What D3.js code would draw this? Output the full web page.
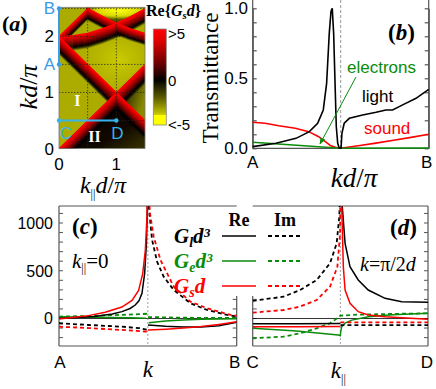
<!DOCTYPE html>
<html>
<head>
<meta charset="utf-8">
<script src="https://cdn.jsdelivr.net/npm/d3@7"></script>
<style>
  body { margin: 0; background: #fff; }
  svg { display: block; }
</style>
</head>
<body>
<div id="container"></div>
<script>
/* CONSTANTS AND GLOBALS */
const width = 436, height = 389;
const serif = "'Liberation Serif', 'Times New Roman', serif";
const sans = "'Liberation Sans', Arial, sans-serif";
const axisGray = "#555";
const green = "#0a8c0a";
const blue = "#3a9be6";
const cyan = "#37b4ea";

/* DATA */
// (a) Rayleigh-anomaly lines on the Re{Gs d} map, [k||d/pi, kd/pi]
const lineL1 = [[0, 0], [1.5, 1.5]];
const lineL2 = [[0, 2], [1.5, 0.5]];
const lineL3 = [[0, 2], [0.52, 2.52]];
const lineL4 = [[0, 2], [0.25, 2.02], [0.5, 2.06], [0.75, 2.14], [1, 2.24], [1.25, 2.36], [1.5, 2.5]];
const lineL5 = [[0.47, 2.52], [0.75, 2.37], [1, 2.24], [1.25, 2.14], [1.5, 2.06]];
// (a) map regions
const regionII = [[0, 0], [1, 1], [1.5, 0.5], [1.5, 0]];
const regionRight = [[1, 1], [1.5, 1.5], [1.5, 0.5]];
const regionTop = [[0.47, 2.52], [0.75, 2.37], [1, 2.24], [1.25, 2.36], [1.5, 2.5], [1.5, 2.52]];
const gridKpar = [0.5, 1];
const gridKd = [0.5, 1, 1.5, 2, 2.5];
const aYTicks = [0, 1, 2];
const aXTicks = [0, 1];
const cbarLabels = [">5", "0", "<-5"];
const pathAB = [[0, 1.5], [0, 2.5]];
const pathCD = [[0, 0.5], [1, 0.5]];

// (b) transmittance vs kd/pi
const bLight = [[1.5, .012], [1.632, .036], [1.746, .071], [1.822, .119], [1.869, .179], [1.901, .274],
  [1.92, .464], [1.935, .821], [1.945, .98], [1.952, 1.0], [1.96, .82], [1.968, .46], [1.975, .154],
  [1.983, .036], [1.992, 0], [2.002, 0], [2.007, .107], [2.02, .179], [2.049, .214], [2.125, .238],
  [2.201, .257], [2.257, .274], [2.295, .274], [2.352, .31], [2.428, .357], [2.5, .421]];
const bSound = [[1.5, .186], [1.57, .179], [1.648, .161], [1.742, .143], [1.818, .119], [1.875, .083],
  [1.913, .048], [1.941, .019], [1.97, .008], [1.998, 0], [2.1, .018], [2.2, .037], [2.3, .057],
  [2.4, .078], [2.5, .1]];
const bElectrons = [[1.5, .043], [2.0, 0], [2.5, .002]];
const bYTicks = [0, 0.5, 1];

// (c) k|| = 0, x = kd/pi ; null splits the branches at the divergence
const cGlRe = [[1.5, 2], [1.6, 10], [1.7, 22], [1.8, 48], [1.854, 72], [1.9, 105], [1.929, 141], [1.95, 185],
  [1.967, 264], [1.982, 473], [1.992, 787], [1.997, 1136], [1.999, 1400], null,
  [2.001, -68], [2.1, -82], [2.2, -90], [2.3, -88], [2.4, -76], [2.5, -40]];
const cGsRe = [[1.5, -5], [1.6, 15], [1.666, 30], [1.76, 65], [1.854, 120], [1.911, 190], [1.948, 295],
  [1.971, 470], [1.986, 717], [1.995, 1066], [1.999, 1400], null,
  [2.001, -120], [2.1, -112], [2.2, -100], [2.3, -85], [2.4, -62], [2.5, -35]];
const cGeRe = [[1.5, 18], [1.7, 14], [1.9, 8], [1.99, 2], null,
  [2.005, -44], [2.1, -25], [2.2, -15], [2.3, -8], [2.4, -4], [2.5, -2]];
const cGlIm = [[1.5, -50], [1.666, -68], [1.854, -86], [1.95, -100], [1.986, -113], [1.999, -118], null,
  [2.001, 1400], [2.005, 1170], [2.024, 822], [2.052, 595], [2.089, 438], [2.146, 298], [2.24, 159],
  [2.334, 89], [2.447, 37], [2.5, 19]];
const cGsIm = [[1.5, -86], [1.666, -100], [1.854, -120], [1.986, -136], [1.999, -140], null,
  [2.002, 1400], [2.012, 1100], [2.033, 857], [2.071, 612], [2.146, 333], [2.24, 176], [2.334, 107],
  [2.466, 37], [2.5, 28]];
const cGeIm = [[1.5, 20], [1.7, 28], [1.85, 38], [1.95, 45], [1.999, 50], null,
  [2.001, 15], [2.2, 8], [2.5, 5]];

// (d) k = pi/2d, x = k||d/pi
const dGlRe = [[0, -55], [0.25, -55], [0.499, -52], null,
  [0.5005, 1400], [0.511, 1170], [0.527, 787], [0.555, 542], [0.602, 403], [0.659, 298], [0.755, 211],
  [0.85, 176], [1, 169]];
const dGsRe = [[0, -86], [0.25, -86], [0.499, -84], null,
  [0.5003, 1400], [0.508, 1170], [0.517, 542], [0.527, 298], [0.555, 159], [0.602, 71], [0.659, 37],
  [0.755, 19], [0.9, 2], [1, -8]];
const dGeRe = [[0, -103], [0.25, -130], [0.488, -173], [0.5, -180], [0.502, -140], [0.508, -86],
  [0.53, -45], [0.565, -17], [0.659, 19], [0.8, 40], [1, 54]];
const dGlIm = [[0, 185], [0.175, 228], [0.27, 298], [0.365, 403], [0.441, 578], [0.479, 787], [0.494, 1066],
  [0.4997, 1400], null, [0.5003, -70], [1, -70]];
const dGsIm = [[0, 61], [0.175, 89], [0.27, 124], [0.365, 194], [0.441, 333], [0.483, 542], [0.4985, 892],
  [0.4998, 1400], null, [0.5002, -40], [1, -40]];
const dGeIm = [[0, -207], [0.175, -190], [0.27, -155], [0.365, -103], [0.441, -50], [0.494, 17], [0.5, 30],
  [0.6, 40], [0.8, 48], [1, 54]];
const cdYLabels = [0, 500, 1000];

/* SVG */
const svg = d3.select("#container").append("svg")
  .attr("width", width).attr("height", height);
const defs = svg.append("defs");

function addText(g, x, y, parts, opts = {}) {
  const t = g.append("text").attr("x", x).attr("y", y)
    .attr("font-family", opts.family || serif)
    .attr("font-size", opts.size || 16)
    .attr("fill", opts.fill || "#000")
    .attr("text-anchor", opts.anchor || "start");
  if (opts.weight) t.attr("font-weight", opts.weight);
  if (opts.transform) t.attr("transform", opts.transform);
  parts.forEach(p => {
    const s = t.append("tspan").text(p.t);
    if (p.i) s.attr("font-style", "italic");
    if (p.size) s.attr("font-size", p.size);
    if (p.dy) s.attr("dy", p.dy);
    if (p.dx) s.attr("dx", p.dx);
  });
  return t;
}

/* PANEL (a) */
const xA = d3.scaleLinear().domain([0, 1.5]).range([59, 145]);
const yA = d3.scaleLinear().domain([0, 2.52]).range([148.5, 7.3]);
const lineA = d3.line().x(d => xA(d[0])).y(d => yA(d[1]));

defs.append("clipPath").attr("id", "clipA").append("rect")
  .attr("x", xA(0)).attr("y", yA(2.52)).attr("width", xA(1.5) - xA(0)).attr("height", yA(0) - yA(2.52));

const gA = svg.append("g").attr("clip-path", "url(#clipA)");
gA.append("rect")
  .attr("x", xA(0)).attr("y", yA(2.52)).attr("width", xA(1.5) - xA(0)).attr("height", yA(0) - yA(2.52))
  .attr("fill", "#acac00");

const gII = defs.append("linearGradient").attr("id", "gII").attr("x1", 0).attr("y1", 0).attr("x2", 1).attr("y2", 1);
gII.append("stop").attr("offset", 0).attr("stop-color", "#000");
gII.append("stop").attr("offset", 0.7).attr("stop-color", "#100800");
gII.append("stop").attr("offset", 1).attr("stop-color", "#3a3400");
const gR = defs.append("linearGradient").attr("id", "gR").attr("x1", 0).attr("y1", 0).attr("x2", 1).attr("y2", 0.6);
gR.append("stop").attr("offset", 0.2).attr("stop-color", "#000");
gR.append("stop").attr("offset", 1).attr("stop-color", "#8a8a00");
const gT = defs.append("radialGradient").attr("id", "gT").attr("cx", 0.55).attr("cy", 0.2).attr("r", 0.6);
gT.append("stop").attr("offset", 0).attr("stop-color", "#ffff10");
gT.append("stop").attr("offset", 0.6).attr("stop-color", "#d8d800");
gT.append("stop").attr("offset", 1).attr("stop-color", "#505000");
const gU = defs.append("radialGradient").attr("id", "gU").attr("cx", 0.7).attr("cy", 0.55).attr("r", 0.6);
gU.append("stop").attr("offset", 0).attr("stop-color", "#cccc00");
gU.append("stop").attr("offset", 1).attr("stop-color", "#acac00").attr("stop-opacity", 0);

gA.append("rect")
  .attr("x", xA(0)).attr("y", yA(2.3)).attr("width", xA(1.5) - xA(0)).attr("height", yA(1) - yA(2.3))
  .attr("fill", "url(#gU)");
gA.append("path").attr("d", lineA(regionII) + "Z").attr("fill", "url(#gII)");
gA.append("path").attr("d", lineA(regionRight) + "Z").attr("fill", "url(#gR)");
gA.append("path").attr("d", lineA(regionTop) + "Z").attr("fill", "url(#gT)");

// red bands hanging below each anomaly line
const bandLines = [
  { pts: lineL1, w: 19 }, { pts: lineL2, w: 18 }, { pts: lineL3, w: 11 },
  { pts: lineL4, w: 15 }, { pts: lineL5, w: 12 }
];
const bandColor = t => t < 0.4
  ? d3.interpolateRgb("#ff0000", "#8a0000")(t / 0.4)
  : d3.interpolateRgb("#8a0000", "#000000")((t - 0.4) / 0.35);
const maxW = d3.max(bandLines, d => d.w);
for (let i = maxW - 1; i >= 0; i--) {
  bandLines.forEach(b => {
    if (i >= b.w) return;
    const t = i / b.w;
    gA.append("path")
      .attr("d", lineA(b.pts))
      .attr("transform", `translate(0,${i + 0.5})`)
      .attr("fill", "none")
      .attr("stroke", bandColor(Math.min(t, 0.75)))
      .attr("stroke-opacity", t > 0.75 ? (1 - t) / 0.25 : 1)
      .attr("stroke-width", 1.6);
  });
}

// dotted grid
gridKpar.forEach(v => gA.append("line")
  .attr("x1", xA(v)).attr("x2", xA(v)).attr("y1", yA(0)).attr("y2", yA(2.52))
  .attr("stroke", "#222").attr("stroke-width", 1).attr("stroke-dasharray", "1.5,1.5").attr("opacity", 0.7));
gridKd.forEach(v => gA.append("line")
  .attr("x1", xA(0)).attr("x2", xA(1.5)).attr("y1", yA(v)).attr("y2", yA(v))
  .attr("stroke", "#222").attr("stroke-width", 1).attr("stroke-dasharray", "1.5,1.5").attr("opacity", 0.7));

svg.append("rect")
  .attr("x", xA(0)).attr("y", yA(2.52)).attr("width", xA(1.5) - xA(0)).attr("height", yA(0) - yA(2.52))
  .attr("fill", "none").attr("stroke", "#777").attr("stroke-width", 0.8);

// region labels
addText(svg, xA(0.32), yA(0.76), [{ t: "I" }], { size: 16, weight: "bold", fill: "#fff", anchor: "middle" });
addText(svg, xA(0.62), yA(0.12), [{ t: "II" }], { size: 16, weight: "bold", fill: "#fff", anchor: "middle" });

// A-B and C-D paths
svg.append("path").attr("d", lineA(pathAB)).attr("stroke", blue).attr("stroke-width", 2).attr("fill", "none");
svg.append("path").attr("d", lineA(pathCD)).attr("stroke", cyan).attr("stroke-width", 2).attr("fill", "none");
pathAB.forEach(d => svg.append("circle").attr("cx", xA(d[0])).attr("cy", yA(d[1])).attr("r", 2.2).attr("fill", blue));
pathCD.forEach(d => svg.append("circle").attr("cx", xA(d[0])).attr("cy", yA(d[1])).attr("r", 2.2).attr("fill", cyan));
addText(svg, 55, yA(1.5) + 6, [{ t: "A" }], { family: sans, size: 17, fill: blue, anchor: "end" });
addText(svg, 55, yA(2.5) + 6, [{ t: "B" }], { family: sans, size: 17, fill: blue, anchor: "end" });
addText(svg, xA(0.12), 139, [{ t: "C" }], { family: sans, size: 17, fill: cyan, anchor: "middle" });
addText(svg, xA(1.02), 139, [{ t: "D" }], { family: sans, size: 17, fill: cyan, anchor: "middle" });

// ticks & labels (a)
aYTicks.forEach(v => addText(svg, 54, yA(v) + 6, [{ t: v }], { family: sans, size: 17, anchor: "end" }));
aXTicks.forEach(v => addText(svg, xA(v), 170, [{ t: v }], { family: sans, size: 17, anchor: "middle" }));
addText(svg, 2, 31, [{ t: "(" }, { t: "a", i: true }, { t: ")" }], { size: 22, weight: "bold" });
addText(svg, 0, 0, [{ t: "kd", i: true }, { t: "/" }, { t: "π", i: true }],
  { size: 26, anchor: "middle", transform: "translate(37,87) rotate(-90)" });
addText(svg, 103, 193, [{ t: "k", i: true }, { t: "||", size: 12, dy: 5 }, { t: "d", i: true, dy: -5 }, { t: "/" }, { t: "π", i: true }],
  { size: 24, anchor: "middle" });

// colorbar
const cb = defs.append("linearGradient").attr("id", "cb").attr("x1", 0).attr("y1", 0).attr("x2", 0).attr("y2", 1);
[[0, "#ff0000"], [0.12, "#e00000"], [0.35, "#700000"], [0.53, "#000000"], [0.72, "#5e5e00"],
 [0.89, "#c8c800"], [0.895, "#ffff00"], [1, "#ffff00"]]
  .forEach(s => cb.append("stop").attr("offset", s[0]).attr("stop-color", s[1]));
svg.append("rect").attr("x", 153.3).attr("y", 29).attr("width", 13).attr("height", 96)
  .attr("fill", "url(#cb)").attr("stroke", "#888").attr("stroke-width", 0.8);
const cbY = [33, 80, 124];
cbarLabels.forEach((l, i) => addText(svg, 168, cbY[i] + 6, [{ t: l }], { family: sans, size: 15 }));
addText(svg, 146, 16, [{ t: "Re{" }, { t: "G", i: true }, { t: "s", i: true, size: 11, dy: 3 }, { t: "d", i: true, dy: -3 }, { t: "}" }],
  { size: 16, weight: "bold" });

/* PANEL (b) */
const xB = d3.scaleLinear().domain([1.5, 2.5]).range([252.7, 428.7]);
const yB = d3.scaleLinear().domain([0, 1]).range([148.3, 8.3]);
const lineB = d3.line().x(d => xB(d[0])).y(d => yB(d[1]));
const gB = svg.append("g");

gB.append("line").attr("x1", xB(2)).attr("x2", xB(2)).attr("y1", 0).attr("y2", yB(0))
  .attr("stroke", "#999").attr("stroke-width", 1).attr("stroke-dasharray", "3,2");
gB.append("g").attr("transform", `translate(${xB(1.5)},0)`)
  .call(d3.axisLeft(yB).tickValues(d3.range(0, 1.01, 0.1)).tickSize(-4).tickSizeOuter(0).tickFormat(""))
  .call(g => g.selectAll("line,path").attr("stroke", axisGray).attr("stroke-width", 1.2));
gB.append("g").attr("transform", `translate(${xB(2.5)},0)`)
  .call(d3.axisRight(yB).tickValues(d3.range(0, 1.01, 0.1)).tickSize(-4).tickSizeOuter(0).tickFormat(""))
  .call(g => g.selectAll("line,path").attr("stroke", axisGray).attr("stroke-width", 1.2));
gB.append("line").attr("x1", xB(1.5)).attr("x2", xB(2.5)).attr("y1", yB(0)).attr("y2", yB(0))
  .attr("stroke", axisGray).attr("stroke-width", 1.2);
[xB(1.5), xB(2.5)].forEach(x => gB.append("line").attr("x1", x).attr("x2", x).attr("y1", 0).attr("y2", yB(0))
  .attr("stroke", axisGray).attr("stroke-width", 1.2));

gB.append("path").datum(bSound).attr("d", lineB).attr("fill", "none").attr("stroke", "#ff0000").attr("stroke-width", 1.6);
gB.append("path").datum(bElectrons).attr("d", lineB).attr("fill", "none").attr("stroke", green).attr("stroke-width", 1.6);
gB.append("path").datum(bLight).attr("d", lineB).attr("fill", "none").attr("stroke", "#000").attr("stroke-width", 1.6);

bYTicks.forEach(v => addText(svg, 248, yB(v) + 6, [{ t: d3.format(".1f")(v) }], { family: sans, size: 17, anchor: "end" }));
addText(svg, xB(1.5), 168, [{ t: "A" }], { family: sans, size: 17, anchor: "middle" });
addText(svg, xB(2.5) - 2, 168, [{ t: "B" }], { family: sans, size: 17, anchor: "middle" });
addText(svg, 354, 187, [{ t: "kd", i: true }, { t: "/" }, { t: "π", i: true }], { size: 27, anchor: "middle" });
addText(svg, 0, 0, [{ t: "Transmittance" }], { size: 23, anchor: "middle", transform: "translate(218,78) rotate(-90)" });
addText(svg, 388, 40, [{ t: "(" }, { t: "b", i: true }, { t: ")" }], { size: 23, weight: "bold" });
addText(svg, 347, 73, [{ t: "electrons" }], { family: sans, size: 17, fill: green });
addText(svg, 362, 102, [{ t: "light" }], { family: sans, size: 17 });
addText(svg, 364, 134, [{ t: "sound" }], { family: sans, size: 17, fill: "#ff0000" });

defs.append("marker").attr("id", "arr").attr("viewBox", "0 0 10 10").attr("refX", 9).attr("refY", 5)
  .attr("markerWidth", 7).attr("markerHeight", 7).attr("orient", "auto")
  .append("path").attr("d", "M0,1L10,5L0,9Z").attr("fill", green);
svg.append("line").attr("x1", 356).attr("y1", 77).attr("x2", 320).attr("y2", 144)
  .attr("stroke", green).attr("stroke-width", 1).attr("marker-end", "url(#arr)");

/* PANELS (c) and (d) */
const yCD = d3.scaleLinear().domain([-288, 1178]).range([346, 206]);
const xC = d3.scaleLinear().domain([1.5, 2.5]).range([59, 236.7]);
const xD = d3.scaleLinear().domain([0, 1]).range([252.7, 428]);
const minorCD = d3.range(-200, 1101, 100);
const legendTop = 296;

function panel(xs, leftFull, rightFull, id) {
  const [x0, x1] = xs.range();
  defs.append("clipPath").attr("id", id).append("rect")
    .attr("x", x0).attr("y", yCD.range()[1]).attr("width", x1 - x0).attr("height", yCD.range()[0] - yCD.range()[1]);
  const g = svg.append("g");
  const sides = [[x0, leftFull, 1], [x1, rightFull, -1]];
  sides.forEach(([x, full, dir]) => {
    const yTop = full ? yCD.range()[1] : legendTop;
    g.append("line").attr("x1", x).attr("x2", x).attr("y1", yTop).attr("y2", yCD.range()[0])
      .attr("stroke", axisGray).attr("stroke-width", 1.2);
    minorCD.filter(v => yCD(v) > yTop + 1).forEach(v => g.append("line")
      .attr("x1", x).attr("x2", x + 4 * dir).attr("y1", yCD(v)).attr("y2", yCD(v))
      .attr("stroke", axisGray).attr("stroke-width", 1));
  });
  g.append("line").attr("x1", x0).attr("x2", x1).attr("y1", yCD.range()[0]).attr("y2", yCD.range()[0])
    .attr("stroke", axisGray).attr("stroke-width", 1.2);
  g.append("line").attr("x1", x0).attr("x2", x1).attr("y1", yCD.range()[1]).attr("y2", yCD.range()[1])
    .attr("stroke", axisGray).attr("stroke-width", 1.2);
  const inner = svg.append("g").attr("clip-path", `url(#${id})`);
  inner.append("line").attr("x1", x0).attr("x2", x1).attr("y1", yCD(0)).attr("y2", yCD(0))
    .attr("stroke", "#000").attr("stroke-width", 0.8);
  return inner;
}

const gC = panel(xC, true, false, "clipC");
const gD = panel(xD, false, true, "clipD");

gC.append("line").attr("x1", xC(2)).attr("x2", xC(2)).attr("y1", 206).attr("y2", 346)
  .attr("stroke", "#888").attr("stroke-width", 0.8).attr("stroke-dasharray", "2,2");
gD.append("line").attr("x1", xD(0.5)).attr("x2", xD(0.5)).attr("y1", 206).attr("y2", 346)
  .attr("stroke", "#888").attr("stroke-width", 0.8).attr("stroke-dasharray", "2,2");

function curves(g, xs, sets) {
  const ln = d3.line().defined(d => d !== null).x(d => xs(d[0])).y(d => yCD(d[1]));
  sets.forEach(([data, color, dashed]) => g.append("path").datum(data).attr("d", ln)
    .attr("fill", "none").attr("stroke", color).attr("stroke-width", dashed ? 1.8 : 1.5)
    .attr("stroke-dasharray", dashed ? "4,3" : null));
}
curves(gC, xC, [[cGeIm, green, true], [cGeRe, green, false], [cGlIm, "#000", true], [cGsIm, "#ff0000", true],
  [cGlRe, "#000", false], [cGsRe, "#ff0000", false]]);
curves(gD, xD, [[dGeIm, green, true], [dGeRe, green, false], [dGlIm, "#000", true], [dGsIm, "#ff0000", true],
  [dGlRe, "#000", false], [dGsRe, "#ff0000", false]]);

cdYLabels.forEach(v => addText(svg, 53, yCD(v) + 6, [{ t: v }], { family: sans, size: 16, anchor: "end" }));
[["A", xC(1.5) + 1], ["B", xC(2.5) - 2], ["C", xD(0)], ["D", xD(1) - 1]]
  .forEach(([l, x]) => addText(svg, x, 368, [{ t: l }], { family: sans, size: 17, anchor: "middle" }));
addText(svg, xC(2), 377, [{ t: "k", i: true }], { size: 23, anchor: "middle" });
addText(svg, xD(0.5) - 2, 378, [{ t: "k", i: true }, { t: "||", size: 12, dy: 5 }], { size: 23, anchor: "middle" });
addText(svg, 72, 234, [{ t: "(" }, { t: "c", i: true }, { t: ")" }], { size: 23, weight: "bold" });
addText(svg, 72, 268, [{ t: "k", i: true }, { t: "||", size: 12, dy: 4 }, { t: "=0", dy: -4 }], { size: 21 });
addText(svg, 390, 235, [{ t: "(" }, { t: "d", i: true }, { t: ")" }], { size: 23, weight: "bold" });
addText(svg, 360, 271, [{ t: "k", i: true }, { t: "=π/2" }, { t: "d", i: true }], { size: 20 });

// legend
const legRows = [
  { y: 236, color: "#000", sub: "l", tail: "d³" },
  { y: 261, color: green, sub: "e", tail: "d³" },
  { y: 286, color: "#ff0000", sub: "s", tail: "d" }
];
addText(svg, 239, 226, [{ t: "Re" }], { size: 18, weight: "bold", anchor: "middle" });
addText(svg, 285, 226, [{ t: "Im" }], { size: 18, weight: "bold", anchor: "middle" });
legRows.forEach(r => {
  addText(svg, 174, r.y + 7, [{ t: "G", i: true }, { t: r.sub, i: true, size: 14, dy: 4 }, { t: r.tail, i: true, dy: -4 }],
    { size: 21, weight: "bold", fill: r.color });
  svg.append("line").attr("x1", 222).attr("x2", 256).attr("y1", r.y).attr("y2", r.y)
    .attr("stroke", r.color).attr("stroke-width", 1.5);
  svg.append("line").attr("x1", 268).attr("x2", 302).attr("y1", r.y).attr("y2", r.y)
    .attr("stroke", r.color).attr("stroke-width", 1.8).attr("stroke-dasharray", "4,3");
});
</script>
</body>
</html>
